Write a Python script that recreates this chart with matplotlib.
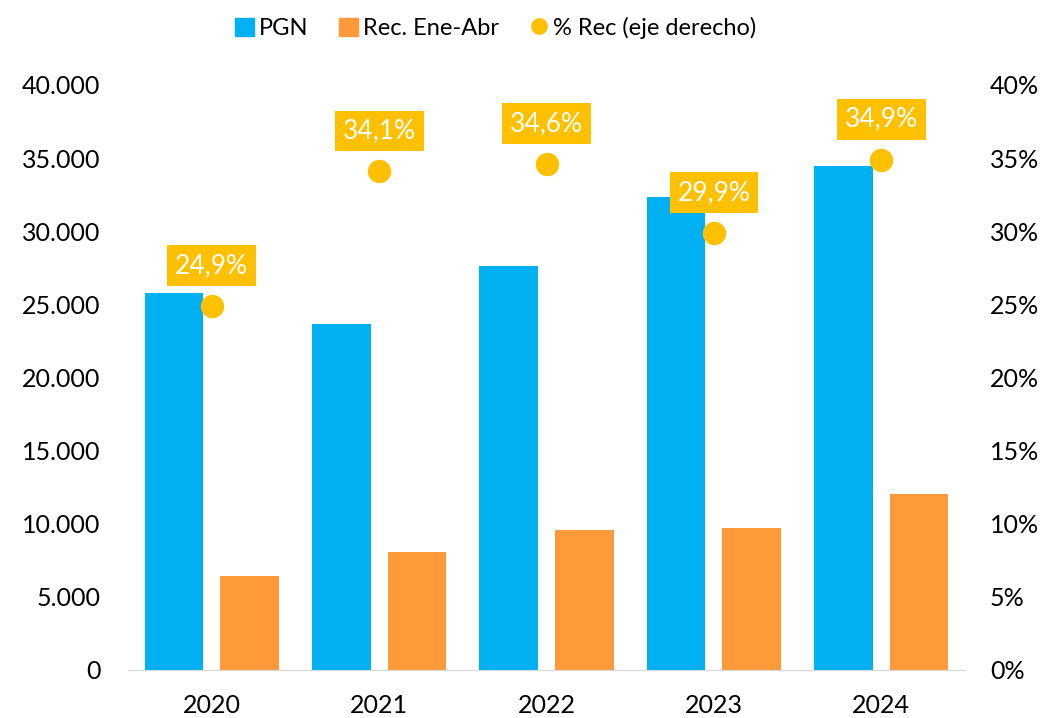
import numpy as np
import matplotlib.pyplot as plt
from matplotlib.lines import Line2D
from matplotlib.patches import Patch

plt.rcParams['font.family'] = ['Lato', 'DejaVu Sans']

# Datos
anios = ['2020', '2021', '2022', '2023', '2024']
pgn = [25800, 23650, 27600, 32350, 34450]
rec = [6430, 8070, 9550, 9700, 12030]
pct_rec = [24.9, 34.1, 34.6, 29.9, 34.9]
etiquetas = ['24,9%', '34,1%', '34,6%', '29,9%', '34,9%']

c_pgn = '#00B0F0'
c_rec = '#FF9A3A'
c_pct = '#FFC000'

fig = plt.figure(figsize=(10.46, 7.18), dpi=100)
ax = fig.add_axes([0.1224, 0.0669, 0.8002, 0.8148])
ax2 = ax.twinx()

x = np.arange(len(anios))
w = 0.35
ax.bar(x - 0.226, pgn, width=w, color=c_pgn, zorder=2)
ax.bar(x + 0.226, rec, width=w, color=c_rec, zorder=2)

ax2.scatter(x, pct_rec, s=250, color=c_pct, zorder=3)
for xi, p, lab in zip(x, pct_rec, etiquetas):
    ax2.annotate(lab, (xi, p), xytext=(0, 29), textcoords='offset points',
                 ha='center', va='center', color='white', fontsize=19,
                 bbox=dict(boxstyle='square,pad=0.3', fc=c_pct, ec='none'))

ax.set_xlim(-0.5, 4.5)
ax.set_ylim(0, 40000)
ax2.set_ylim(0, 40)
ax.set_xticks(x)
ax.set_xticklabels(anios)
yt = np.arange(0, 40001, 5000)
ax.set_yticks(yt)
ax.set_yticklabels(['0'] + [f'{v:,}'.replace(',', '.') for v in yt[1:]])
ax2.set_yticks(np.arange(0, 41, 5))
ax2.set_yticklabels([f'{v}%' for v in range(0, 41, 5)])

for a in (ax, ax2):
    for s in ['top', 'left', 'right', 'bottom']:
        a.spines[s].set_visible(False)
    a.tick_params(length=0, labelsize=18, colors='black')
ax.spines['bottom'].set_visible(True)
ax.spines['bottom'].set_color('#D9D9D9')
ax.tick_params(axis='y', pad=20)
ax2.tick_params(axis='y', pad=18)
ax.tick_params(axis='x', pad=17)

handles = [Patch(color=c_pgn), Patch(color=c_rec),
           Line2D([], [], marker='o', ls='none', color=c_pct, markersize=11)]
fig.legend(handles, ['PGN', 'Rec. Ene-Abr', '% Rec (eje derecho)'],
           loc='center', bbox_to_anchor=(0.474, 0.961), ncol=3, frameon=False,
           fontsize=17, handlelength=0.8, handleheight=0.8, columnspacing=1.3,
           handletextpad=0.2)

fig.savefig('out.png', dpi=100)
